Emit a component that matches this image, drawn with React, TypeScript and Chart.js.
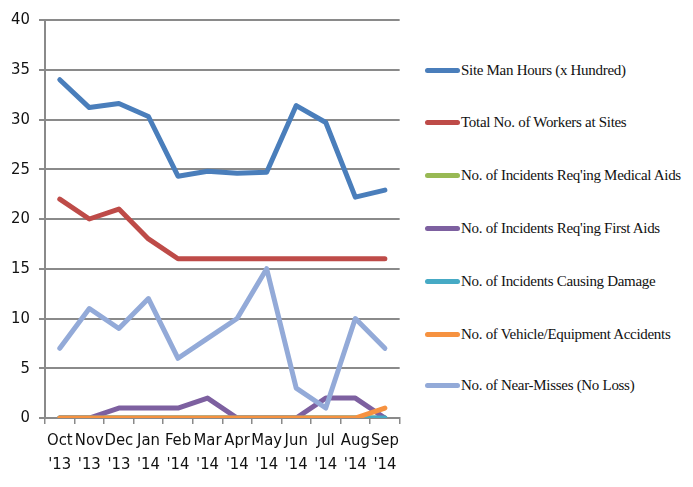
import React, { useEffect, useRef } from "react";
import { Chart, registerables } from "chart.js";

Chart.register(...registerables);

const categories: string[][] = [
  ["Oct", "'13"], ["Nov", "'13"], ["Dec", "'13"], ["Jan", "'14"], ["Feb", "'14"], ["Mar", "'14"],
  ["Apr", "'14"], ["May", "'14"], ["Jun", "'14"], ["Jul", "'14"], ["Aug", "'14"], ["Sep", "'14"],
];

const manHours = [34, 31.2, 31.6, 30.3, 24.3, 24.8, 24.6, 24.7, 31.4, 29.7, 22.2, 22.9];
const workers = [22, 20, 21, 18, 16, 16, 16, 16, 16, 16, 16, 16];
const medicalAids = [0, 0, 0, 0, 0, 0, 0, 0, 0, 0, 0, 0];
const firstAids = [0, 0, 1, 1, 1, 2, 0, 0, 0, 2, 2, 0];
const damage = [0, 0, 0, 0, 0, 0, 0, 0, 0, 0, 0, 0];
const vehicle = [0, 0, 0, 0, 0, 0, 0, 0, 0, 0, 0, 1];
const nearMisses = [7, 11, 9, 12, 6, 8, 10, 15, 3, 1, 10, 7];

const seriesNames = [
  "Site Man Hours (x Hundred)",
  "Total No. of Workers at Sites",
  "No. of Incidents Req'ing Medical Aids",
  "No. of Incidents Req'ing First Aids",
  "No. of Incidents Causing Damage",
  "No. of Vehicle/Equipment Accidents",
  "No. of Near-Misses (No Loss)",
];
const seriesValues = [manHours, workers, medicalAids, firstAids, damage, vehicle, nearMisses];
const seriesColors = ["#4A7EBB", "#BE4B48", "#98B954", "#7D60A0", "#46AAC5", "#F69240", "#93AAD8"];

const yMin = 0;
const yMax = 40;
const yStep = 5;

const axisFont = "'Liberation Sans Narrow', 'DejaVu Sans Condensed', 'Arial Narrow', sans-serif";

export default function App() {
  const canvasRef = useRef<HTMLCanvasElement | null>(null);

  useEffect(() => {
    if (!canvasRef.current) return;
    const chart = new Chart(canvasRef.current, {
      type: "line",
      data: {
        labels: categories,
        datasets: seriesNames.map((name, i) => ({
          label: name,
          data: seriesValues[i],
          borderColor: seriesColors[i],
          backgroundColor: seriesColors[i],
          borderWidth: 5,
          pointRadius: 0,
          tension: 0,
          fill: false,
          order: seriesNames.length - i,
          borderJoinStyle: "round" as const,
          borderCapStyle: "round" as const,
        })),
      },
      options: {
        animation: false,
        responsive: false,
        maintainAspectRatio: false,
        layout: { padding: { top: 12, right: 3, left: 0, bottom: 0 } },
        plugins: {
          legend: { display: false },
          tooltip: { enabled: false },
        },
        scales: {
          x: {
            offset: true,
            grid: {
              offset: true,
              drawOnChartArea: false,
              drawTicks: true,
              tickLength: 6,
              color: "#8A8A8A",
              lineWidth: 1.5,
            },
            border: { color: "#8A8A8A", width: 2 },
            ticks: {
              color: "#111",
              font: { family: axisFont, size: 16.5, lineHeight: 1.5 },
              padding: 4,
              maxRotation: 0,
              autoSkip: false,
            },
            afterFit: (s: any) => { s.height = 57; },
          },
          y: {
            min: yMin,
            max: yMax,
            ticks: {
              stepSize: yStep,
              color: "#111",
              font: { family: axisFont, size: 16.5 },
              padding: 9,
            },
            grid: {
              color: "#8A8A8A",
              lineWidth: 2,
              tickLength: 6,
            },
            border: { color: "#8A8A8A", width: 2 },
            afterFit: (s: any) => {
              s.width = 37;
              s.paddingTop = 0;
              s.paddingBottom = 0;
            },
          },
        },
      },
    });
    return () => chart.destroy();
  }, []);

  const legendTop = [70, 122, 175, 228, 281, 334, 385];

  return (
    <div style={{ position: "relative", width: 677, height: 471 }}>
      <canvas ref={canvasRef} width={395} height={467} style={{ display: "block" }} />
      {seriesNames.map((name, i) => (
        <div
          key={name}
          style={{
            position: "absolute",
            left: 417,
            top: legendTop[i] - 8 - 12,
            height: 24,
            display: "flex",
            alignItems: "center",
            whiteSpace: "nowrap",
            fontFamily: "'Liberation Serif', 'Times New Roman', Times, serif",
            fontSize: 15,
            letterSpacing: -0.3,
            color: "#111",
          }}
        >
          <span
            style={{
              display: "inline-block",
              width: 35,
              height: 5,
              borderRadius: 3,
              background: seriesColors[i],
              marginRight: 1,
            }}
          />
          <span>{name}</span>
        </div>
      ))}
    </div>
  );
}
